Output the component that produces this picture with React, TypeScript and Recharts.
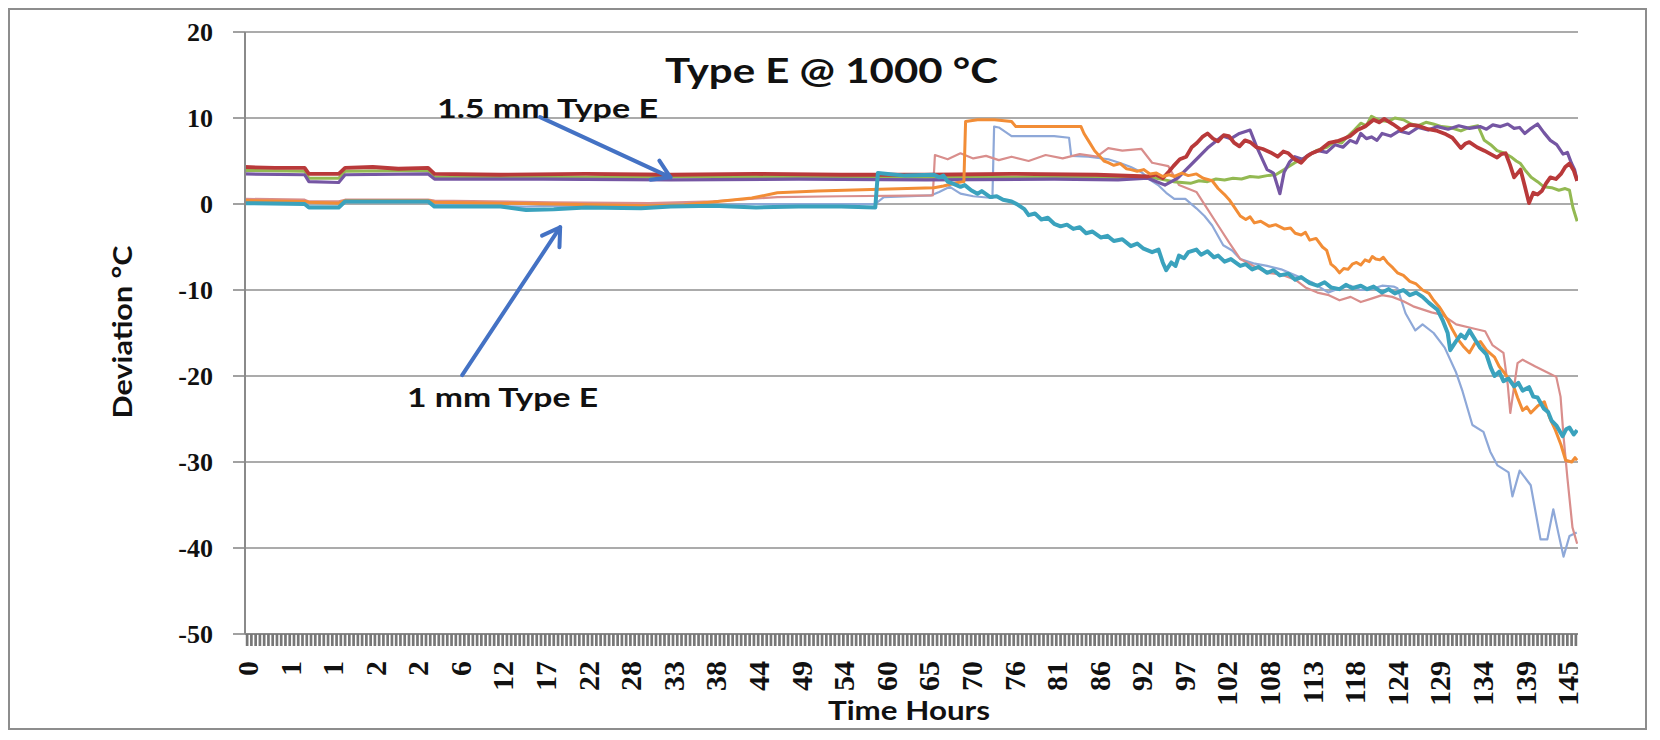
import { CartesianGrid, Line, LineChart, ReferenceLine, XAxis, YAxis } from "recharts";

// Hour labels printed under every 10th reading on the category axis
const HOUR_LABELS = [
  "0", "1", "1", "2", "2", "6", "12", "17", "22", "28", "33", "38", "44", "49", "54", "60",
  "65", "70", "76", "81", "86", "92", "97", "102", "108", "113", "118", "124", "129", "134", "139", "145",
];
const READING_COUNT = 313;
const LABEL_EVERY = 10;
const DEVIATION_TICKS = [-50, -40, -30, -20, -10, 0, 10, 20];

// [reading position, deviation °C]
// 1.5 mm Type E thermocouples
const red15: [number, number][] = [
  [0, 4.3], [7, 4.2], [14, 4.2], [15, 3.5], [22, 3.5], [23.5, 4.2], [30, 4.3], [36, 4.1], [43, 4.2],
  [44.5, 3.5], [60, 3.4], [80, 3.5], [100, 3.4], [120, 3.5], [140, 3.4], [160, 3.4], [180, 3.5],
  [200, 3.4], [212, 3.2], [214, 3.4], [215.5, 3.0], [217, 3.8], [218, 4.4], [219.5, 5.2], [221, 5.5],
  [222.3, 6.6], [223.5, 7.1], [224.8, 7.8], [226, 8.2], [227.3, 7.6], [228.5, 7.3], [229.8, 8.0],
  [231, 7.9], [232.3, 7.1], [233.5, 6.7], [234.8, 7.4], [236, 7.2], [237.5, 6.6], [239, 6.4],
  [240.8, 6.0], [242.5, 5.5], [243.8, 6.1], [245, 5.9], [246.5, 5.2], [248, 4.8], [249.3, 5.5],
  [250.5, 5.9], [252.5, 6.3], [254.5, 7.1], [256.5, 7.3], [258, 7.6], [259.5, 7.9], [261.2, 8.6],
  [263, 9.0], [265, 9.8], [266.3, 9.5], [267.5, 9.9], [269.5, 9.3], [271.5, 8.6], [273.5, 9.2],
  [275.5, 9.1], [277.8, 8.7], [280, 8.5], [282, 8.1], [283.5, 7.7], [285.5, 6.5], [286.5, 7.0],
  [287.5, 7.2], [289.3, 6.6], [291, 6.2], [292.5, 5.8], [294, 5.4], [295, 5.8], [296, 5.9], [297, 4.6],
  [298, 3.1], [299.5, 4.0], [300.5, 2.1], [301.5, 0.1], [302.5, 1.3], [303.5, 1.1], [304.5, 1.5],
  [305.5, 2.4], [306.5, 3.1], [307.8, 2.9], [309, 3.5], [310, 4.3], [311, 4.7], [312, 3.9], [312.8, 2.7],
];
const purple15: [number, number][] = [
  [0, 3.5], [14, 3.4], [15, 2.6], [22, 2.5], [23.5, 3.4], [43, 3.5], [44.5, 2.9], [70, 2.9], [100, 2.8],
  [130, 2.9], [160, 2.8], [190, 2.9], [205, 2.8], [212, 3.0], [216, 2.2], [219, 3.0], [223, 5.0],
  [226, 6.5], [229.5, 7.9], [231.5, 7.6], [233.5, 8.2], [236, 8.6], [237.5, 6.7], [240, 4.0],
  [241.5, 3.6], [243, 1.2], [244, 3.7], [245.3, 4.9], [246.5, 5.5], [248.3, 5.2], [250, 5.8], [252, 6.2],
  [254, 6.0], [256, 6.9], [257.8, 6.6], [259.5, 7.4], [261, 7.1], [262, 8.2], [263.3, 7.6], [264.5, 7.8],
  [265.8, 7.4], [267, 8.2], [269, 7.9], [271, 8.5], [273.3, 8.2], [275.5, 8.9], [277.8, 8.6], [280, 9.0],
  [282.5, 8.7], [285, 9.1], [287.5, 8.8], [290, 9.0], [291.5, 8.7], [293, 9.2], [294.8, 9.0],
  [296.5, 9.3], [298, 8.8], [299.3, 8.9], [300.5, 8.2], [302, 8.8], [303.5, 9.3], [305, 8.3],
  [306.5, 7.4], [308, 6.9], [309.5, 5.8], [310.5, 6.0], [311.5, 4.7], [312.2, 4.0], [312.8, 2.7],
];
const green15: [number, number][] = [
  [0, 3.9], [14, 3.8], [15, 3.0], [22, 3.0], [23.5, 3.8], [43, 3.9], [44.5, 3.1], [80, 3.1], [120, 3.2],
  [160, 3.1], [200, 3.1], [214, 3.0], [218, 2.6], [222, 2.4], [224, 2.7], [226, 2.6], [228, 2.9],
  [230, 2.8], [232, 3.0], [234, 2.9], [236, 3.2], [238, 3.1], [240, 3.3], [242, 3.4], [244, 4.0],
  [246.5, 4.8], [249, 5.4], [251.5, 6.2], [254, 6.6], [256, 7.3], [257.5, 7.1], [259, 7.9], [260.5, 8.6],
  [262, 9.4], [263.3, 9.1], [264.5, 10.2], [266.5, 9.7], [268.5, 9.6], [270, 10.0], [272, 9.8],
  [273.8, 9.3], [275.5, 9.1], [277.3, 9.5], [279, 9.3], [281, 9.0], [283, 8.9], [285.5, 8.5],
  [287.5, 8.9], [289.5, 9.1], [290.3, 8.2], [291, 7.4], [292.5, 6.9], [294, 6.2], [295.8, 5.9],
  [297.5, 5.4], [298.5, 5.0], [299.5, 4.7], [300.8, 3.8], [302, 3.1], [303.5, 2.6], [305, 2.0],
  [306.8, 1.9], [308.5, 1.6], [310, 1.8], [311, 1.6], [311.8, -0.4], [312.8, -2.0],
];

// 1 mm Type E thermocouples
const teal1: [number, number][] = [
  [0, 0.1], [14, 0.0], [15, -0.4], [22, -0.4], [23.5, 0.3], [43, 0.3], [44.5, -0.3], [60, -0.3],
  [66, -0.7], [72.5, -0.6], [80, -0.4], [93, -0.5], [100, -0.3], [110, -0.2], [120, -0.4], [130, -0.3],
  [140, -0.3], [148, -0.4], [148.6, 3.6], [155, 3.3], [161.8, 3.4], [163, 3.1], [164, 3.3], [165, 2.6],
  [166.5, 2.3], [168, 2.0], [169, 2.2], [170.5, 1.6], [172, 1.2], [173, 1.5], [175, 0.8], [176.5, 0.9],
  [178, 0.5], [180, 0.3], [181.5, -0.1], [183, -0.6], [184, -1.3], [185.5, -1.1], [187, -1.8],
  [188.5, -1.6], [190, -2.3], [191.5, -2.6], [193, -2.4], [194.5, -2.9], [196, -2.7], [197.5, -3.4],
  [199, -3.2], [201, -3.9], [202.5, -3.7], [204, -4.3], [206, -4.1], [208, -4.9], [209.5, -4.6],
  [211, -5.2], [213, -5.6], [214.5, -5.3], [215.5, -6.8], [216.3, -7.7], [217.5, -6.8], [218.5, -7.2],
  [219.3, -6.0], [220.5, -6.3], [221.5, -5.6], [223.4, -5.3], [224.5, -5.9], [226, -5.5], [227.5, -6.2],
  [228.5, -6.0], [230, -6.7], [231.5, -6.4], [233.7, -7.2], [235, -7.0], [236.5, -7.6], [238, -7.3],
  [240, -8.0], [241.5, -7.7], [243, -8.3], [245, -8.1], [246.6, -8.8], [248, -8.5], [250, -9.2],
  [251.8, -9.5], [253.5, -9.1], [255, -9.7], [257, -9.9], [258.5, -9.4], [260, -9.8], [262, -9.5],
  [263.5, -9.9], [265, -9.6], [267, -10.3], [268.5, -9.9], [270, -10.4], [272, -10.0], [273.5, -10.6],
  [275, -10.3], [276.5, -10.8], [278, -11.5], [280, -12.3], [281.2, -13.5], [282.4, -15.0], [283, -17.0],
  [284.3, -16.0], [285.5, -15.2], [286.5, -15.6], [287.5, -14.7], [289, -15.9], [290, -16.7],
  [291.5, -17.5], [292.5, -19.0], [293.4, -20.0], [294.5, -19.5], [295.5, -20.6], [296.7, -20.3],
  [298, -21.2], [299, -20.8], [300, -21.7], [301.5, -21.3], [302.5, -22.4], [303.5, -22.5], [305, -23.8],
  [306, -24.2], [306.8, -25.2], [308, -25.8], [309.4, -27.0], [310.2, -26.2], [311, -26.0], [312, -26.8],
  [312.8, -26.3],
];
const orange1: [number, number][] = [
  [0, 0.4], [14, 0.3], [15, 0.2], [22, 0.1], [23.5, 0.4], [43, 0.4], [44.5, 0.2], [72, 0.0], [95, -0.2],
  [103, -0.1], [111, 0.3], [119, 0.7], [125, 1.3], [134.5, 1.5], [147, 1.7], [161.8, 1.9], [164, 2.1],
  [167.4, 2.5], [168.8, 2.6], [169.2, 9.6], [172, 9.8], [176, 9.8], [180, 9.6], [181, 9.0], [190, 9.0],
  [196.3, 9.0], [197, 8.2], [198, 7.4], [199.5, 6.2], [200.8, 5.5], [201.7, 5.0], [202.7, 4.8], [204, 4.5],
  [205.5, 4.7], [207, 4.1], [208, 4.0], [209.5, 3.8], [211, 4.0], [212.5, 3.5], [214, 3.6], [215.5, 3.2],
  [217, 3.4], [218.2, 3.2], [220, 3.6], [221.5, 3.3], [223.4, 3.5], [225, 3.0], [227.1, 2.7], [228.5, 1.8],
  [230, 1.1], [231.1, 0.5], [232.5, -0.5], [233.7, -1.4], [235, -1.8], [236, -1.5], [237, -2.2],
  [238.5, -2.0], [240.5, -2.6], [242, -2.4], [244, -2.9], [245.5, -2.8], [246.6, -3.4], [248, -3.6],
  [249, -3.3], [250, -4.2], [251.5, -4.0], [253, -5.0], [254, -5.4], [255, -7.0], [256, -7.4], [257, -8.0],
  [258, -7.5], [259, -7.6], [260, -7.0], [261, -6.8], [262, -7.1], [263, -6.5], [264, -6.7], [264.7, -6.1],
  [265.5, -6.4], [266.5, -6.5], [267.3, -6.2], [268.2, -6.8], [269.5, -7.4], [270.6, -8.0], [272, -8.3],
  [273.5, -9.0], [275, -9.3], [276.5, -10.0], [278, -10.4], [279.1, -11.2], [280.5, -12.0], [282.4, -13.5],
  [283.5, -14.6], [284.9, -15.8], [286, -16.5], [287.5, -17.3], [288.8, -16.2], [290.1, -16.0],
  [291.5, -17.0], [293.4, -17.8], [294.5, -18.9], [295.5, -19.5], [296.5, -20.2], [297.6, -20.8],
  [298.8, -22.5], [300, -24.0], [301, -23.6], [301.9, -24.3], [303.5, -23.5], [305.1, -23.0],
  [306.3, -24.8], [307.7, -26.3], [309, -28.0], [310.1, -29.8], [311.5, -30.0], [312.3, -29.5],
  [312.8, -29.8],
];
const lightBlue1: [number, number][] = [
  [0, 0.3], [14, 0.2], [15, -0.3], [22, -0.3], [23.5, 0.3], [43, 0.3], [44.5, -0.1], [66, -0.3],
  [72.5, -0.2], [95, -0.3], [120, 0.0], [148, 0.0], [150, 0.8], [161, 1.0], [163, 1.4], [165.5, 2.0],
  [168, 1.2], [171, 0.9], [175.5, 0.7], [175.9, 9.0], [177, 8.9], [180, 7.9], [190, 7.9], [193.5, 7.7],
  [194, 5.6], [198, 5.5], [202.7, 5.2], [205.3, 4.8], [208, 4.3], [210.5, 3.7], [212.5, 2.8], [214.4, 2.2],
  [216.3, 1.3], [218.2, 0.6], [220.8, 0.6], [223.4, -0.5], [225.3, -1.4], [227.1, -2.5], [229.7, -4.8],
  [231.8, -5.4], [233.7, -6.4], [236.8, -6.9], [240, -7.2], [243.3, -7.6], [246.6, -8.3], [250.5, -9.1],
  [254.4, -10.3], [257, -9.8], [259.6, -9.5], [262, -10.0], [264.5, -9.9], [267, -9.5], [269.7, -9.6],
  [270.6, -9.8], [272.5, -12.7], [274.8, -14.7], [276.5, -14.0], [279.1, -15.0], [281.7, -16.7],
  [284.3, -19.5], [285.9, -21.8], [288.2, -25.7], [290.8, -26.5], [292.4, -28.8], [294.1, -30.4],
  [296.7, -31.2], [297.6, -34.0], [299.3, -31.0], [301.9, -32.7], [304.2, -39.0], [305.8, -39.0],
  [307.2, -35.5], [308.4, -38.3], [309.6, -41.0], [311, -38.6], [312.7, -38.2],
];
const pink1: [number, number][] = [
  [0, 0.6], [14, 0.5], [15, 0.3], [22, 0.3], [23.5, 0.5], [43, 0.5], [44.5, 0.4], [72, 0.2], [95, 0.1],
  [110, 0.3], [125, 0.8], [140, 0.9], [161.5, 1.0], [162, 5.7], [165, 5.2], [168, 5.9], [171, 5.3],
  [174, 5.6], [177, 5.1], [180, 5.5], [184, 5.0], [188, 5.7], [192, 5.3], [196, 5.8], [200, 5.5],
  [202.7, 6.5], [206, 6.2], [210.5, 6.4], [213, 4.8], [216.8, 4.4], [219.3, 2.2], [223.4, 1.4],
  [225.9, -0.5], [228.5, -2.5], [231.1, -4.5], [233.7, -6.4], [236.8, -7.2], [240, -8.0], [243.3, -8.2],
  [246.6, -8.8], [249, -9.7], [251.8, -10.3], [254.5, -10.6], [257, -11.2], [259.6, -10.8], [262, -11.4],
  [264.5, -11.0], [267, -10.6], [269.4, -10.8], [272, -11.3], [274.3, -11.9], [278.6, -12.6],
  [281.2, -12.9], [284.4, -14.0], [288.7, -14.5], [291.2, -14.8], [292.9, -16.4], [295.5, -17.3],
  [296.5, -21.0], [297.1, -24.3], [298.8, -18.5], [300, -18.1], [303, -18.9], [306.3, -19.7],
  [307.9, -20.1], [308.9, -22.4], [309.6, -27.0], [310.5, -31.8], [311.7, -37.6], [312.8, -39.5],
];

// Drawing order: later entries sit on top
const SERIES = [
  { name: "1 mm E-4", points: lightBlue1, color: "#8EA8D8", width: 2.2 },
  { name: "1 mm E-3", points: pink1, color: "#D98E8C", width: 2.2 },
  { name: "1.5 mm E-3", points: green15, color: "#93B952", width: 3 },
  { name: "1.5 mm E-2", points: purple15, color: "#7556A3", width: 3.2 },
  { name: "1.5 mm E-1", points: red15, color: "#B9393A", width: 3.8 },
  { name: "1 mm E-2", points: orange1, color: "#F28D36", width: 3 },
  { name: "1 mm E-1", points: teal1, color: "#3AA2BD", width: 4 },
];

// Arrow annotations in chart units: [position, deviation]
const ARROW_15MM = [{ x: 69.3, y: 10.1 }, { x: 99.9, y: 3.1 }];
const ARROW_1MM = [{ x: 51, y: -19.9 }, { x: 74, y: -2.7 }];

const READING_TICKS = Array.from({ length: READING_COUNT }, (_, k) => k + 0.5);

const SERIF = "'Liberation Serif', 'Times New Roman', serif";
const SANS = "Lato, 'Liberation Sans', sans-serif";
const ARROW_BLUE = "#4472C4";

function HourTick({ x, y, payload }: any) {
  const k = Math.round(payload.value - 0.5);
  const label = k % LABEL_EVERY === 0 ? HOUR_LABELS[k / LABEL_EVERY] : undefined;
  if (label === undefined) return <g />;
  return (
    <text
      transform={`translate(${x},${y + 13}) rotate(-90)`}
      textAnchor="end"
      dy="0.36em"
      fontFamily={SERIF}
      fontWeight="bold"
      fontSize={30}
      fill="#111"
    >
      {label}
    </text>
  );
}

function DeviationTick({ x, y, payload }: any) {
  return (
    <text
      x={x}
      y={y}
      textAnchor="end"
      dy="0.35em"
      fontFamily={SERIF}
      fontWeight="bold"
      fontSize={26}
      fill="#111"
    >
      {payload.value}
    </text>
  );
}

function OpenArrow({ x1, y1, x2, y2 }: any) {
  const ang = Math.atan2(y2 - y1, x2 - x1);
  const arm = 20;
  const spread = 0.55;
  const a = { x: x2 - arm * Math.cos(ang - spread), y: y2 - arm * Math.sin(ang - spread) };
  const b = { x: x2 - arm * Math.cos(ang + spread), y: y2 - arm * Math.sin(ang + spread) };
  return (
    <g stroke={ARROW_BLUE} strokeWidth={4} fill="none" strokeLinecap="round" strokeLinejoin="round">
      <line x1={x1} y1={y1} x2={x2} y2={y2} />
      <polyline points={`${a.x},${a.y} ${x2},${y2} ${b.x},${b.y}`} />
    </g>
  );
}

export default function App() {
  return (
    <div style={{ position: "relative", width: 1640, height: 722, background: "#fff" }}>
      <LineChart width={1640} height={722} margin={{ top: 24, right: 70, bottom: 16, left: 137 }}>
        <CartesianGrid vertical={false} stroke="#8f8f8f" strokeWidth={1.6} />
        <XAxis
          type="number"
          dataKey="p"
          domain={[0, READING_COUNT]}
          ticks={READING_TICKS}
          interval={0}
          height={80}
          tickSize={12}
          tick={HourTick}
          tickLine={{ stroke: "#777", strokeWidth: 2.7 }}
          axisLine={{ stroke: "#8a8a8a", strokeWidth: 2 }}
          allowDataOverflow
        />
        <YAxis
          type="number"
          domain={[-50, 20]}
          ticks={DEVIATION_TICKS}
          interval={0}
          width={100}
          tickSize={12}
          tickMargin={20}
          tick={DeviationTick}
          tickLine={{ stroke: "#8a8a8a", strokeWidth: 1.6 }}
          axisLine={{ stroke: "#8a8a8a", strokeWidth: 2 }}
          allowDataOverflow
        />
        {SERIES.map((s) => (
          <Line
            key={s.name}
            name={s.name}
            data={s.points.map(([p, v]) => ({ p, v }))}
            dataKey="v"
            type="linear"
            stroke={s.color}
            strokeWidth={s.width}
            strokeLinejoin="round"
            dot={false}
            activeDot={false}
            isAnimationActive={false}
          />
        ))}
        <ReferenceLine segment={ARROW_15MM} shape={OpenArrow} />
        <ReferenceLine segment={ARROW_1MM} shape={OpenArrow} />
      </LineChart>

      <svg
        width={1640}
        height={722}
        style={{ position: "absolute", left: 0, top: 0, pointerEvents: "none" }}
      >
        <rect x={1} y={1} width={1637} height={720} fill="none" stroke="#8d8d8d" strokeWidth={2} />
        <text x={823.5} y={75} textAnchor="middle" fontFamily={SANS} fontWeight="bold" fontSize={35} textLength={333} lengthAdjust="spacingAndGlyphs" fill="#111">
          Type E @ 1000 °C
        </text>
        <text x={429} y={110} fontFamily={SANS} fontWeight="bold" fontSize={27} textLength={221} lengthAdjust="spacingAndGlyphs" fill="#111">
          1.5 mm Type E
        </text>
        <text x={399} y={399} fontFamily={SANS} fontWeight="bold" fontSize={27} textLength={191} lengthAdjust="spacingAndGlyphs" fill="#111">
          1 mm Type E
        </text>
        <text transform="translate(114,324) rotate(-90)" textAnchor="middle" dy="0.36em" fontFamily={SANS} fontWeight="bold" fontSize={27} textLength={173} lengthAdjust="spacingAndGlyphs" fill="#111">
          Deviation °C
        </text>
        <text x={820} y={712} fontFamily={SANS} fontWeight="bold" fontSize={26} textLength={162} lengthAdjust="spacingAndGlyphs" fill="#111">
          Time Hours
        </text>
      </svg>
    </div>
  );
}
